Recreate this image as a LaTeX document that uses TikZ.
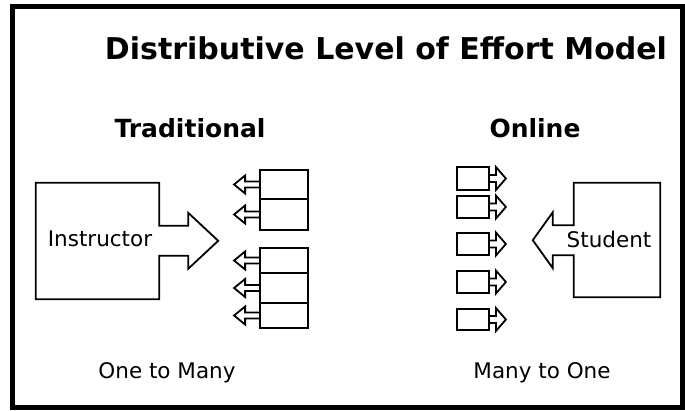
\documentclass[tikz,border=0pt]{standalone}
\usepackage{fontspec}
\setmainfont{DejaVu Sans}
\usetikzlibrary{positioning}

\begin{document}
\begin{tikzpicture}[
        x=1pt, y=1pt,
        frame/.style={draw, line width=5pt},
        outline/.style={draw, line width=1.8pt, line join=miter},
        bigbox/.style={inner sep=0pt, minimum width=#1},
        tbox/.style={draw, line width=1.8pt, inner sep=0pt, minimum width=48},
        obox/.style={draw, line width=1.8pt, inner sep=0pt, minimum width=32},
        title/.style={anchor=base, font=\bfseries\fontsize{30}{35}\selectfont},
        heading/.style={anchor=base, font=\bfseries\fontsize{25}{30}\selectfont},
        txt/.style={anchor=base, font=\fontsize{21.5}{26}\selectfont}
    ]
        \useasboundingbox (0,0) rectangle (685,410);
        \draw[frame] (12,3) rectangle (682,403);

        % Titles
        \node[title] (ttl) at (386,350) {Distributive Level of Effort Model};
        \node[heading] (trad) at (190,272) {Traditional};
        \node[heading] (onl) at (535,272) {Online};

        % Traditional: one instructor
        \node[bigbox=123, minimum height=116] (I) at (97.5,169) {};
        \draw[outline] (I.north west) -- (I.north east) -- ++(0,-43) -- ++(29,0)
            -- ++(0,13) -- ++(30,-28) -- ++(-30,-28) -- ++(0,13) -- ++(-29,0)
            -- (I.south east) -- (I.south west) -- cycle;
        \node[txt] (Itext) at (100,164) {Instructor};

        % Traditional: many students
        \foreach \i/\c/\h in {1/225.5/29, 2/195.5/31, 3/149.5/25, 4/122/30, 5/94.5/25}
        {
            \node[tbox, minimum height=\h] (T\i) at (284,\c) {};
            \draw[outline] (T\i.west) ++(0,3) -- ++(-14,0) -- ++(0,6) -- ++(-11,-9)
                -- ++(11,-9) -- ++(0,6) -- ++(14,0);
        }

        % Online: many students
        \foreach \i/\c/\h in {1/231.5/23, 2/203/22, 3/166/22, 4/128/22, 5/90.5/21}
        {
            \node[obox, minimum height=\h] (O\i) at (473,\c) {};
            \draw[outline] (O\i.east) ++(0,3.5) -- ++(6,0) -- ++(0,8) -- ++(10,-11.5)
                -- ++(-10,-11.5) -- ++(0,8) -- ++(-6,0);
        }

        % Online: one student
        \node[bigbox=86, minimum height=114] (S) at (617,170) {};
        \draw[outline] (S.north west) -- (S.north east) -- (S.south east) -- (S.south west)
            -- ++(0,42) -- ++(-21,0) -- ++(0,-13) -- ++(-20,28) -- ++(20,28)
            -- ++(0,-13) -- ++(21,0) -- cycle;
        \node[txt] (Stext) at (609,163) {Student};

        % Captions
        \node[txt] (one) at (167,32) {One to Many};
        \node[txt] (many) at (542,32) {Many to One};
    \end{tikzpicture}
\end{document}
